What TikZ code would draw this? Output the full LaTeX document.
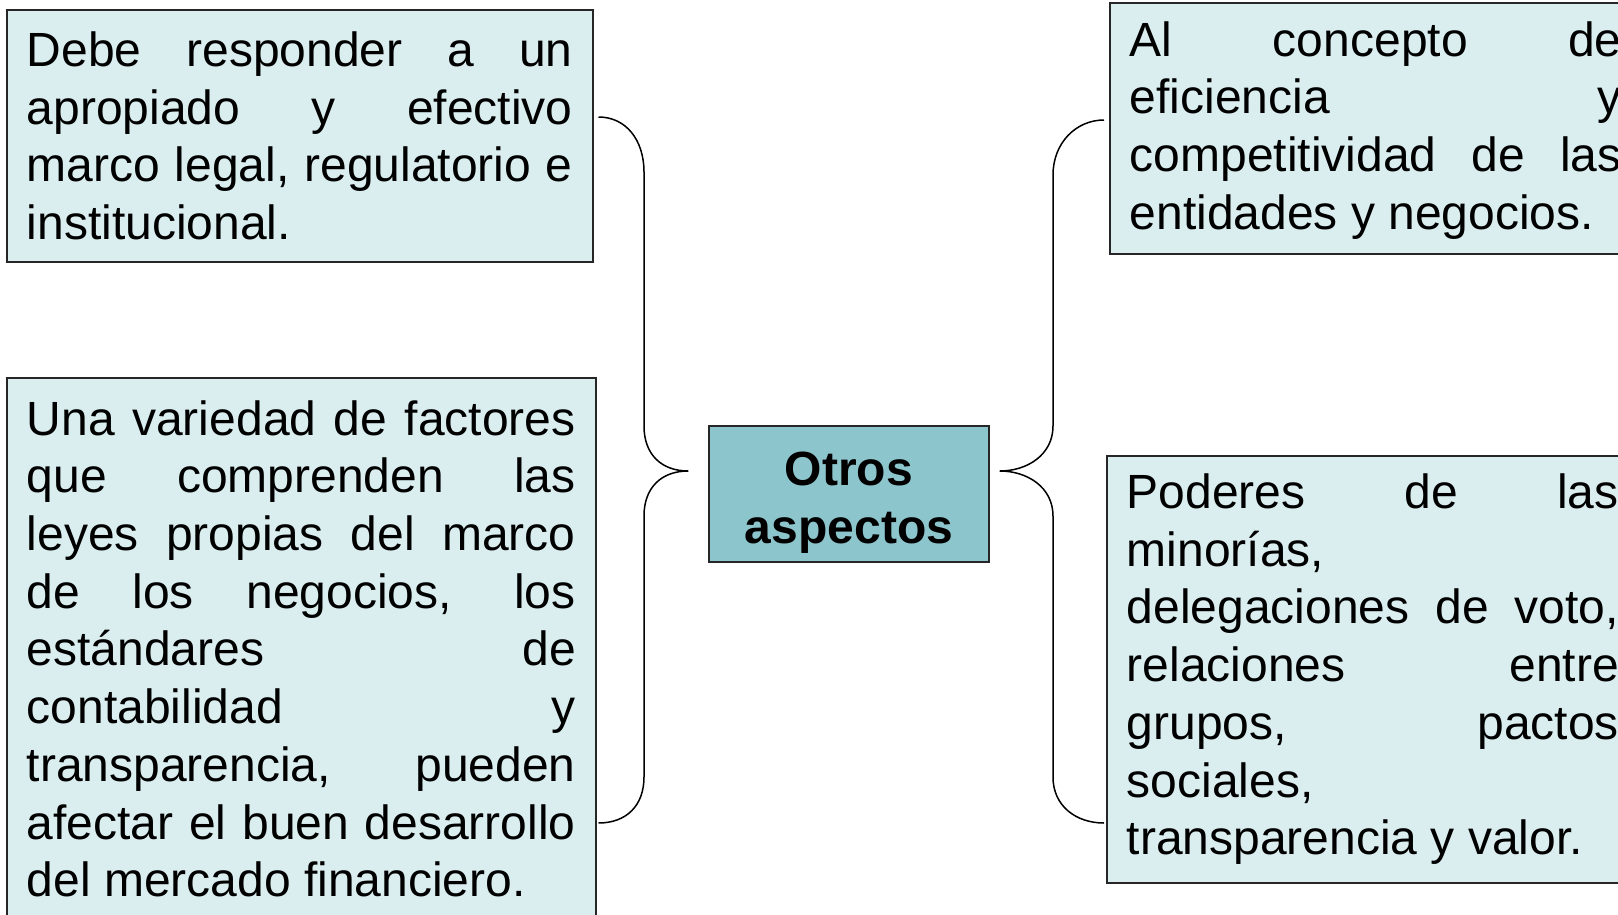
\documentclass[tikz,border=0pt]{standalone}
\usepackage{fontspec}
\setmainfont{Liberation Sans}
\setlength{\parindent}{0pt}
\tolerance=9999
\hbadness=10000
\definecolor{boxfill}{HTML}{DAEDEF}
\definecolor{mainfill}{HTML}{8CC5CC}

\begin{document}
\begin{tikzpicture}[x=1pt, y=-1pt,
    txtbox/.style={draw=black!85, line width=1.5pt, fill=boxfill, anchor=north west,
        text width=546pt, inner xsep=20pt, inner ysep=0pt, align=justify,
        font=\fontsize{48}{57.7}\selectfont},
    mainbox/.style={draw=black!85, line width=1.5pt, fill=mainfill,
        minimum width=280pt, minimum height=136pt, align=center,
        font=\fontsize{48}{57.7}\selectfont\bfseries},
    brc/.style={line width=1.5pt}]

        \useasboundingbox (0,0) rectangle (1618,914);

        % Central node
        \node[mainbox] (otros) at (849,494) {\rule{0pt}{51pt}Otros\\aspectos};

        % Left boxes
        \node[txtbox, minimum height=252pt] (marco) at (6,9)
            {Debe responder a un\linebreak apropiado y efectivo\linebreak marco legal, regulatorio e\linebreak institucional.};
        \node[txtbox, text width=549pt, minimum height=542pt] (factores) at (6,377)
            {Una variedad de factores\linebreak que comprenden las\linebreak leyes propias del marco\linebreak de los negocios, los\linebreak est\'andares de\linebreak contabilidad y\linebreak transparencia, pueden\linebreak afectar el buen desarrollo\linebreak del mercado financiero.};

        % Right boxes
        \node[txtbox, text width=492pt, minimum height=251pt] (eficiencia) at (1109,2)
            {\rule{0pt}{39pt}Al concepto de\linebreak eficiencia y\linebreak competitividad de las\linebreak entidades y negocios.};
        \node[txtbox, text width=492pt, minimum height=427pt] (poderes) at (1106,455)
            {Poderes de las\linebreak minor\'ias,\newline delegaciones de voto,\linebreak relaciones entre\linebreak grupos, pactos\linebreak sociales,\newline transparencia y valor.};

        % Brace ends
        \coordinate (la) at ([xshift=5pt]marco.east |- 0,117);
        \coordinate (lb) at ([xshift=2pt]factores.east |- 0,823);
        \coordinate (lt) at ([xshift=-20pt]otros.west |- 0,471);
        \coordinate (ra) at ([xshift=-5pt]eficiencia.west |- 0,120);
        \coordinate (rb) at ([xshift=-2pt]poderes.west |- 0,823);
        \coordinate (rt) at ([xshift=10pt]otros.east |- 0,471);

        % Left brace
        \draw[brc] (la) .. controls (626,117) and (644,140) .. (644,172) -- (644,426)
            .. controls (644,455) and (662,471) .. (lt)
            .. controls (662,471) and (644,487) .. (644,516) -- (644,777)
            .. controls (644,806) and (626,823) .. (lb);

        % Right brace
        \draw[brc] (ra) .. controls (1076,120) and (1053,143) .. (1053,175) -- (1053,426)
            .. controls (1053,455) and (1027,471) .. (rt)
            .. controls (1027,471) and (1053,487) .. (1053,516) -- (1053,777)
            .. controls (1053,806) and (1076,823) .. (rb);

\end{tikzpicture}
\end{document}
